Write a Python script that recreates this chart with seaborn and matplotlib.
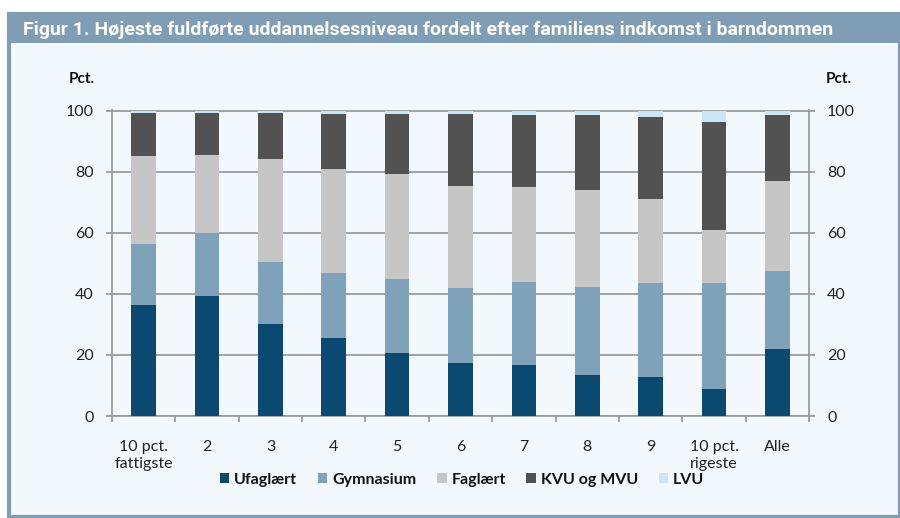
import numpy as np
import pandas as pd
import matplotlib
matplotlib.use("Agg")
import matplotlib.pyplot as plt
import seaborn as sns
from matplotlib.patches import Rectangle, Patch

categories = ["10 pct.\nfattigste", "2", "3", "4", "5", "6", "7", "8", "9", "10 pct.\nrigeste", "Alle"]
ufaglaert = [36.3, 39.3, 30.0, 25.6, 20.6, 17.4, 16.6, 13.3, 12.7, 9.0, 22.0]
gymnasium = [20.1, 20.6, 20.5, 21.1, 24.3, 24.4, 27.3, 29.1, 30.7, 34.7, 25.4]
faglaert = [28.6, 25.7, 33.6, 34.1, 34.2, 33.5, 31.2, 31.6, 27.6, 17.3, 29.7]
kvu_mvu = [14.2, 13.6, 15.1, 18.0, 19.7, 23.5, 23.6, 24.4, 27.0, 35.2, 21.3]
lvu = [0.8, 0.8, 0.8, 1.2, 1.2, 1.2, 1.3, 1.6, 2.0, 3.8, 1.6]

series = ["Ufaglært", "Gymnasium", "Faglært", "KVU og MVU", "LVU"]
colors = ["#0b4a70", "#7fa2bb", "#c6c6c6", "#525252", "#cbe7f6"]

df = pd.DataFrame({"kategori": categories, "Ufaglært": ufaglaert, "Gymnasium": gymnasium,
                   "Faglært": faglaert, "KVU og MVU": kvu_mvu, "LVU": lvu})
cum = df[series].cumsum(axis=1)
cum["kategori"] = categories

sns.set_theme(style="white")
plt.rcParams["font.family"] = ["Lato", "DejaVu Sans"]

bg = "#f3f8fc"
frame = "#7f9db4"
grid = "#9a9a9a"

fig = plt.figure(figsize=(9, 5.18), dpi=100)
fig.patches.append(Rectangle((9/900, 1/518), 0.99, 1 - 15/518, transform=fig.transFigure,
                             facecolor=bg, edgecolor=frame, linewidth=3, zorder=-2))
fig.patches.append(Rectangle((9/900, 1 - 43/518), 0.99, 29/518, transform=fig.transFigure,
                             facecolor=frame, edgecolor="none", zorder=-1))
fig.text(23/900, 1 - 30/518, "Figur 1. Højeste fuldførte uddannelsesniveau fordelt efter familiens indkomst i barndommen",
         color="white", fontsize=14, fontweight="bold", family="Roboto", va="center", ha="left")

ax = fig.add_axes([112/900, 1 - 416/518, 697/900, 306/518])
ax.set_facecolor(bg)
ax.set_zorder(2)

# stacked bars: draw cumulative totals from top layer down
for s, c in zip(reversed(series), reversed(colors)):
    sns.barplot(data=cum, x="kategori", y=s, color=c, width=0.39, saturation=1,
                ax=ax, zorder=3, linewidth=0)

ax.set_ylim(0, 100.2)
ax.set_xlim(-0.5, len(categories) - 0.5)
ax.set_yticks([0, 20, 40, 60, 80, 100])
ax.set_xlabel("")
ax.set_ylabel("")
ax.yaxis.grid(True, color=grid, linewidth=1.3, zorder=1)
ax.set_axisbelow(True)
for side in ["left", "right", "bottom"]:
    ax.spines[side].set_color(grid)
    ax.spines[side].set_linewidth(1.3)
ax.spines["top"].set_visible(False)

ax.tick_params(axis="y", which="major", left=True, right=True, labelleft=True, labelright=True,
               length=4, width=1.3, color=grid, labelsize=11.5, labelcolor="#222222", pad=9)
ax.tick_params(axis="x", which="major", length=0, labelsize=11.5, labelcolor="#222222", pad=17)
ax.set_xticks(np.arange(len(categories) + 1) - 0.5, minor=True)
ax.tick_params(axis="x", which="minor", bottom=True, length=4, width=1.3, color=grid, direction="out")
for lab in ax.get_xticklabels():
    lab.set_linespacing(1.3)

fig.text(82/900, 1 - 79/518, "Pct.", fontsize=11, fontweight="bold", ha="center", va="center", color="#111111")
fig.text(839/900, 1 - 79/518, "Pct.", fontsize=11, fontweight="bold", ha="center", va="center", color="#111111")

handles = [Patch(facecolor=c, edgecolor="none", label=s) for s, c in zip(series, colors)]
leg = fig.legend(handles=handles, loc="center", bbox_to_anchor=(462/900, 1 - 480/518), ncol=5,
                 frameon=False, handlelength=0.6, handleheight=0.6, handletextpad=0.3,
                 columnspacing=1.3, prop={"weight": "bold", "size": 11.5})
leg.set_zorder(3)
for t in leg.get_texts():
    t.set_color("#111111")

fig.savefig("out.png", dpi=100, facecolor="white")
